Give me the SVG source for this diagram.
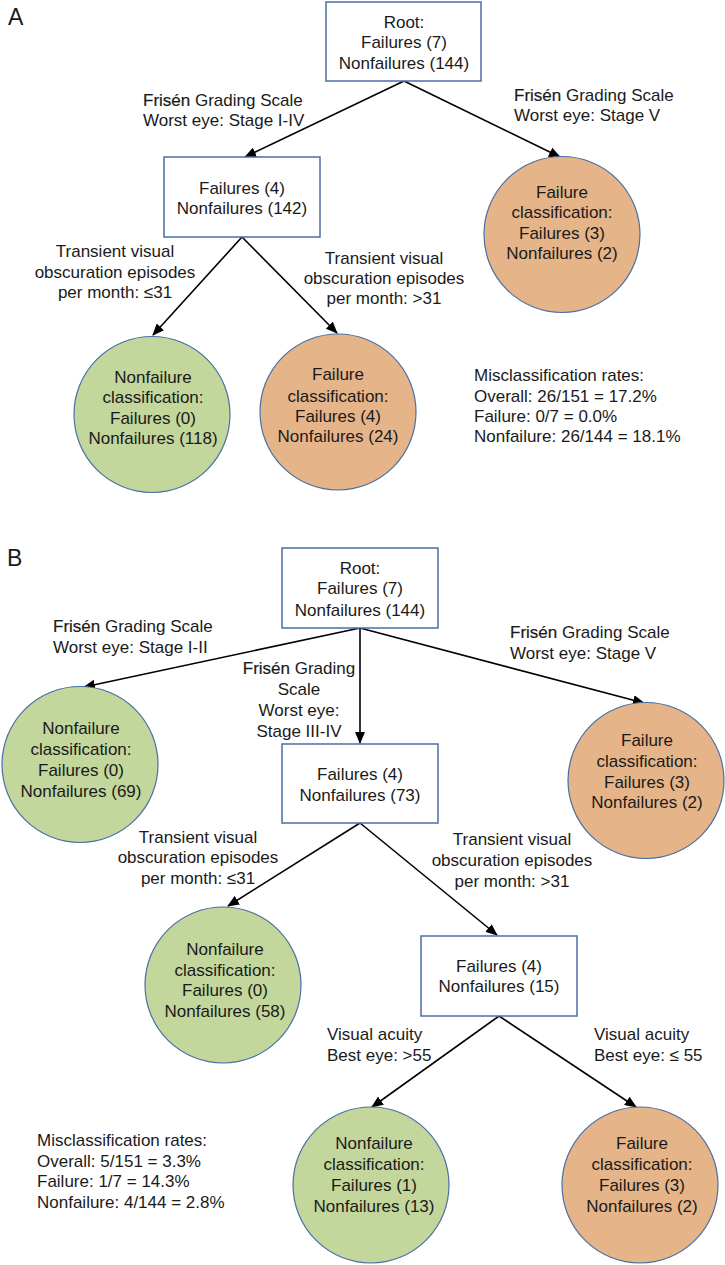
<svg xmlns="http://www.w3.org/2000/svg" width="725" height="1265" viewBox="0 0 725 1265">
<style>
text{font-family:"Liberation Sans",Arial,sans-serif;font-size:17px;fill:#1a1a1a}
.c{text-anchor:middle}
.panel{font-size:23px}
.box{fill:#fff;stroke:#4a6fa5;stroke-width:1.5}
.fail{fill:#e6b489;stroke:#4a6fa5;stroke-width:1.2}
.nonf{fill:#c3d69b;stroke:#4a6fa5;stroke-width:1.2}
.edge{stroke:#000;stroke-width:1.6;fill:none;marker-end:url(#ah)}
.fr{stroke:#1a1a1a;stroke-width:0.2}
</style>
<defs>
<marker id="ah" markerUnits="userSpaceOnUse" markerWidth="12" markerHeight="10" refX="11" refY="5" orient="auto">
<path d="M0,0 L12,5 L0,10 z" fill="#000"/>
</marker>
</defs>
<rect width="725" height="1265" fill="#fff"/>

<text class="panel" x="8" y="25">A</text>
<text class="panel" x="7" y="566">B</text>

<g id="connectors">
<line class="edge" x1="404" y1="81" x2="245" y2="157"/>
<line class="edge" x1="404" y1="81" x2="560" y2="157"/>
<line class="edge" x1="242" y1="237" x2="153" y2="335"/>
<line class="edge" x1="242" y1="237" x2="337" y2="333"/>
<line class="edge" x1="360" y1="628" x2="84" y2="687"/>
<line class="edge" x1="360" y1="628" x2="360" y2="743"/>
<line class="edge" x1="360" y1="628" x2="644" y2="703"/>
<line class="edge" x1="360" y1="823" x2="228" y2="906"/>
<line class="edge" x1="360" y1="823" x2="497" y2="935"/>
<line class="edge" x1="499" y1="1016" x2="372" y2="1107"/>
<line class="edge" x1="499" y1="1016" x2="636" y2="1107"/>
</g>

<g id="edge-labels">
<text x="143" y="106"><tspan class="fr">Frisén</tspan> Grading Scale</text>
<text x="143" y="126">Worst eye: Stage I-IV</text>
<text x="514" y="101"><tspan class="fr">Frisén</tspan> Grading Scale</text>
<text x="514" y="121">Worst eye: Stage V</text>
<text class="c" x="115" y="257">Transient visual</text>
<text class="c" x="115" y="278">obscuration episodes</text>
<text class="c" x="115" y="298">per month: ≤31</text>
<text class="c" x="384" y="264">Transient visual</text>
<text class="c" x="384" y="284">obscuration episodes</text>
<text class="c" x="384" y="304">per month: &gt;31</text>

<text x="53" y="632"><tspan class="fr">Frisén</tspan> Grading Scale</text>
<text x="53" y="653">Worst eye: Stage I-II</text>
<text class="c" x="299" y="674"><tspan class="fr">Frisén</tspan> Grading</text>
<text class="c" x="299" y="695">Scale</text>
<text class="c" x="299" y="716">Worst eye:</text>
<text class="c" x="299" y="737">Stage III-IV</text>
<text x="510" y="638"><tspan class="fr">Frisén</tspan> Grading Scale</text>
<text x="510" y="659">Worst eye: Stage V</text>
<text class="c" x="198" y="843">Transient visual</text>
<text class="c" x="198" y="863">obscuration episodes</text>
<text class="c" x="198" y="884">per month: ≤31</text>
<text class="c" x="512" y="845">Transient visual</text>
<text class="c" x="512" y="866">obscuration episodes</text>
<text class="c" x="512" y="887">per month: &gt;31</text>
<text x="327" y="1040">Visual acuity</text>
<text x="327" y="1061">Best eye: &gt;55</text>
<text x="594" y="1040">Visual acuity</text>
<text x="594" y="1061">Best eye: ≤ 55</text>
</g>

<g id="rootA">
<rect class="box" x="326" y="2" width="155" height="79"/>
<text class="c" x="404" y="28">Root:</text>
<text class="c" x="404" y="48">Failures (7)</text>
<text class="c" x="404" y="69">Nonfailures (144)</text>
</g>
<g id="nodeA1">
<rect class="box" x="164" y="157" width="156" height="80"/>
<text class="c" x="242" y="194">Failures (4)</text>
<text class="c" x="242" y="214">Nonfailures (142)</text>
</g>
<g id="leafA-stageV">
<circle class="fail" cx="562" cy="234.5" r="78"/>
<text class="c" x="562" y="198">Failure</text>
<text class="c" x="562" y="218">classification:</text>
<text class="c" x="562" y="239">Failures (3)</text>
<text class="c" x="562" y="259">Nonfailures (2)</text>
</g>
<g id="leafA-le31">
<circle class="nonf" cx="152" cy="414.5" r="78"/>
<text class="c" x="153" y="383">Nonfailure</text>
<text class="c" x="153" y="403">classification:</text>
<text class="c" x="153" y="424">Failures (0)</text>
<text class="c" x="153" y="444">Nonfailures (118)</text>
</g>
<g id="leafA-gt31">
<circle class="fail" cx="338" cy="412" r="78"/>
<text class="c" x="338" y="380">Failure</text>
<text class="c" x="338" y="402">classification:</text>
<text class="c" x="338" y="422">Failures (4)</text>
<text class="c" x="338" y="442">Nonfailures (24)</text>
</g>
<g id="ratesA">
<text x="474" y="381">Misclassification rates:</text>
<text x="474" y="402">Overall: 26/151 = 17.2%</text>
<text x="474" y="422">Failure: 0/7 = 0.0%</text>
<text x="474" y="442">Nonfailure: 26/144 = 18.1%</text>
</g>

<g id="rootB">
<rect class="box" x="282" y="548" width="156" height="80"/>
<text class="c" x="360" y="574">Root:</text>
<text class="c" x="360" y="594">Failures (7)</text>
<text class="c" x="360" y="616">Nonfailures (144)</text>
</g>
<g id="leafB-stageI-II">
<circle class="nonf" cx="80" cy="764.5" r="78"/>
<text class="c" x="81" y="734">Nonfailure</text>
<text class="c" x="81" y="755">classification:</text>
<text class="c" x="81" y="776">Failures (0)</text>
<text class="c" x="81" y="797">Nonfailures (69)</text>
</g>
<g id="nodeB2">
<rect class="box" x="282" y="744" width="156" height="79"/>
<text class="c" x="360" y="780">Failures (4)</text>
<text class="c" x="360" y="801">Nonfailures (73)</text>
</g>
<g id="leafB-stageV">
<circle class="fail" cx="646" cy="780.5" r="78"/>
<text class="c" x="647" y="746">Failure</text>
<text class="c" x="647" y="767">classification:</text>
<text class="c" x="647" y="788">Failures (3)</text>
<text class="c" x="647" y="808">Nonfailures (2)</text>
</g>
<g id="leafB-le31">
<circle class="nonf" cx="223" cy="985" r="78"/>
<text class="c" x="225" y="955">Nonfailure</text>
<text class="c" x="225" y="976">classification:</text>
<text class="c" x="225" y="996">Failures (0)</text>
<text class="c" x="225" y="1017">Nonfailures (58)</text>
</g>
<g id="nodeB5">
<rect class="box" x="421" y="936" width="156" height="80"/>
<text class="c" x="499" y="972">Failures (4)</text>
<text class="c" x="499" y="992">Nonfailures (15)</text>
</g>
<g id="leafB-gt55">
<circle class="nonf" cx="371" cy="1185" r="78"/>
<text class="c" x="374" y="1149">Nonfailure</text>
<text class="c" x="374" y="1170">classification:</text>
<text class="c" x="374" y="1191">Failures (1)</text>
<text class="c" x="374" y="1212">Nonfailures (13)</text>
</g>
<g id="leafB-le55">
<circle class="fail" cx="640" cy="1185" r="78"/>
<text class="c" x="642" y="1149">Failure</text>
<text class="c" x="642" y="1170">classification:</text>
<text class="c" x="642" y="1191">Failures (3)</text>
<text class="c" x="642" y="1212">Nonfailures (2)</text>
</g>
<g id="ratesB">
<text x="37" y="1146">Misclassification rates:</text>
<text x="37" y="1167">Overall: 5/151 = 3.3%</text>
<text x="37" y="1187">Failure: 1/7 = 14.3%</text>
<text x="37" y="1208">Nonfailure: 4/144 = 2.8%</text>
</g>
</svg>
